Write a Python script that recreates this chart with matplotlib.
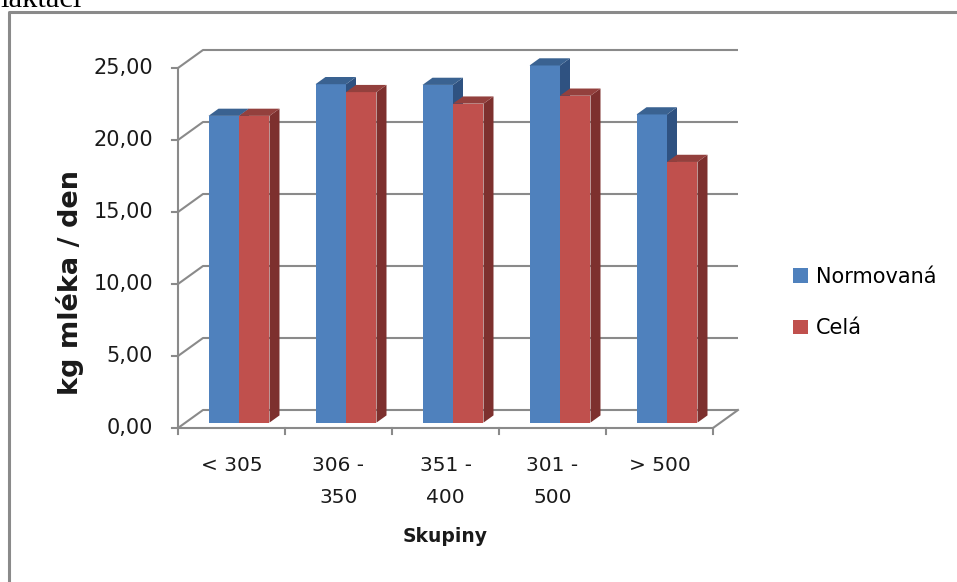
import numpy as np
import matplotlib
matplotlib.use("Agg")
import matplotlib.pyplot as plt
from matplotlib.patches import Polygon, Patch
from matplotlib.lines import Line2D

# data
categories = ["< 305", "306 -\n350", "351 -\n400", "301 -\n500", "> 500"]
normovana = [21.3, 23.5, 23.45, 24.8, 21.4]
cela = [21.3, 22.95, 22.15, 22.7, 18.1]
series_names = ["Normovaná", "Celá"]
yticks = [0, 5, 10, 15, 20, 25]
ytick_labels = ["0,00", "5,00", "10,00", "15,00", "20,00", "25,00"]

W, H = 957, 582
fig = plt.figure(figsize=(W / 100, H / 100), dpi=100)
fig.patch.set_facecolor("white")

# front plane of the 3D box in pixels
x0, x1 = 178, 713
y0, y1 = 428, 68
ax = fig.add_axes([x0 / W, 1 - y0 / H, (x1 - x0) / W, (y0 - y1) / H])
ax.set_xlim(-0.5, 4.5)
ax.set_ylim(0, 25)
ax.axis("off")

pxx = (x1 - x0) / 5.0        # px per category
pxy = (y0 - y1) / 25.0       # px per unit
ddx, ddy = 25 / pxx, 18 / pxy   # depth of the box
grid_c = "#8a8a8a"
lw = 1.5

# back wall + side wall
for v in yticks:
    ax.plot([-0.5, -0.5 + ddx, 4.5 + ddx], [v, v + ddy, v + ddy],
            color=grid_c, lw=lw, clip_on=False, zorder=1, solid_capstyle="butt")
# floor right edge, front axes
ax.plot([4.5, 4.5 + ddx], [0, ddy], color=grid_c, lw=lw, clip_on=False, zorder=1)
ax.plot([-0.5, 4.5], [0, 0], color=grid_c, lw=lw, clip_on=False, zorder=5)
ax.plot([-0.5, -0.5], [0, 25], color=grid_c, lw=lw, clip_on=False, zorder=5)
tkx = 6 / pxx
tky = 6 / pxy
for v in yticks:
    ax.plot([-0.5 - tkx, -0.5], [v, v], color=grid_c, lw=lw, clip_on=False, zorder=5)
for i in range(6):
    ax.plot([i - 0.5, i - 0.5], [0, -tky], color=grid_c, lw=lw, clip_on=False, zorder=5)

# bars
f = 0.3
off, base = f * ddx, f * ddy
bw = 0.285
bdx, bdy = 10 / pxx, 7.2 / pxy
styles = [("#4F81BD", "#3A6291", "#2F5281"), ("#C0504D", "#93403D", "#7D302E")]
for s, vals in enumerate([normovana, cela]):
    front, top_c, side_c = styles[s]
    for i, v in enumerate(vals):
        xl = i + off - bw + s * bw
        xr = xl + bw
        yt = base + v
        z = 10 + s * 3
        ax.add_patch(Polygon([[xl, base], [xr, base], [xr, yt], [xl, yt]],
                             closed=True, fc=front, ec="none", zorder=z, clip_on=False))
        ax.add_patch(Polygon([[xr, base], [xr + bdx, base + bdy], [xr + bdx, yt + bdy], [xr, yt]],
                             closed=True, fc=side_c, ec="none", zorder=z + 1, clip_on=False))
        ax.add_patch(Polygon([[xl, yt], [xr, yt], [xr + bdx, yt + bdy], [xl + bdx, yt + bdy]],
                             closed=True, fc=top_c, ec="none", zorder=z + 2, clip_on=False))

# tick labels
txt_c = "#1a1a1a"
for v, lab in zip(yticks, ytick_labels):
    ax.text(-0.5 - 25 / pxx, v, lab, ha="right", va="center", fontsize=15, color=txt_c)
for i, lab in enumerate(categories):
    ax.text(i, -28 / pxy, lab, ha="center", va="top", fontsize=14.5, color=txt_c,
            linespacing=1.85, multialignment="center")

fig.text(445 / W, 1 - 537 / H, "Skupiny", ha="center", va="center",
         fontsize=13.5, fontweight="bold", color=txt_c)
fig.text(70 / W, 1 - 282 / H, "kg mléka / den", ha="center", va="center",
         rotation=90, fontsize=19.5, fontweight="bold", color=txt_c)

handles = [Patch(fc=styles[0][0], ec="none"), Patch(fc=styles[1][0], ec="none")]
fig.legend(handles, series_names, loc="upper left",
           bbox_to_anchor=(793 / W, 1 - 267 / H), frameon=False, fontsize=15,
           handlelength=0.7, handleheight=0.7, handletextpad=0.4,
           labelspacing=1.5, borderpad=0, borderaxespad=0)

# outer chart frame and the cut-off caption above it
fig.add_artist(Line2D([9 / W, 9 / W, 1.01], [-0.01, 1 - 12 / H, 1 - 12 / H],
                      transform=fig.transFigure, color="#8a8a8a", lw=2.2))
fig.text(0, 1 - 7 / H, "laktaci", ha="left", va="baseline", fontsize=22,
         family="Liberation Serif", color="black")

fig.savefig("out.png", dpi=100)
